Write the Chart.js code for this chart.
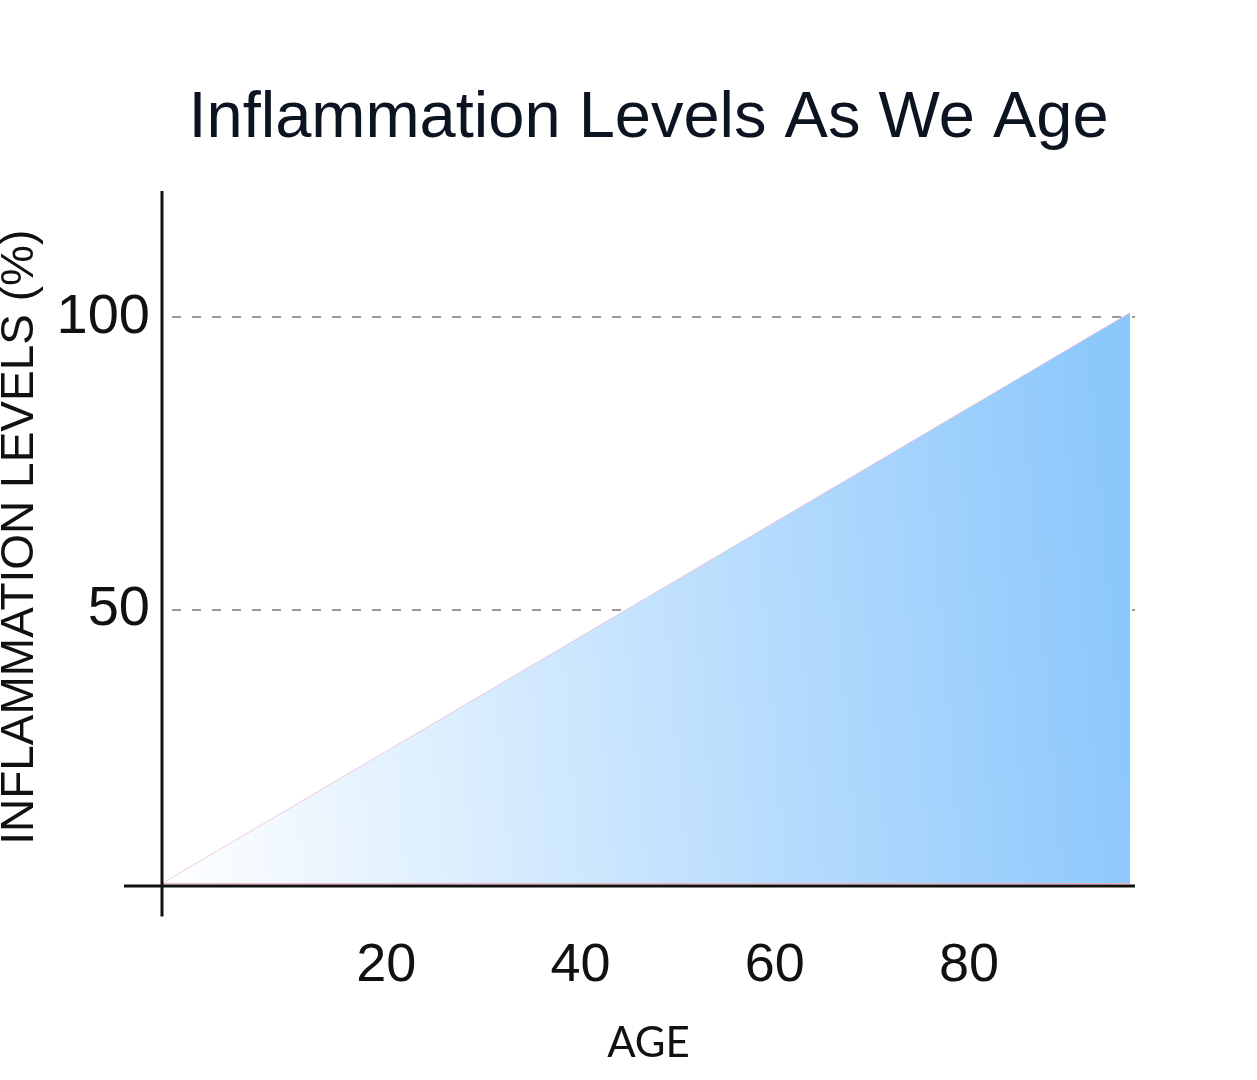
<!DOCTYPE html>
<html>
<head>
<meta charset="utf-8">
<script src="https://cdn.jsdelivr.net/npm/chart.js@4.4.1/dist/chart.umd.min.js"></script>
<style>
    html, body { margin: 0; padding: 0; background: #fff; overflow: hidden; }
    #wrap { width: 1257px; height: 1080px; }
</style>
</head>
<body>
<div id="wrap"><canvas id="ageChart"></canvas></div>
<script>
// data
const ageRange = [-3.1, 97.1];      // x scale limits
const levelRange = [3.25, 121.6];   // y scale limits
const ages = [-3.1, 96.6];
const levels = [3.25, 100.8];
const xTicks = [20, 40, 60, 80];
const yTicks = [50, 100];

const chartTitle = 'Inflammation Levels As We Age';
const xTitle = 'AGE';
const yTitle = 'INFLAMMATION LEVELS (%)';

// cross shaped axis lines, drawn from the scale positions
const axisCross = {
    id: 'axisCross',
    afterDatasetsDraw(chart) {
        const { ctx, chartArea } = chart;
        const x0 = chart.scales.x.getPixelForValue(ageRange[0]);
        const y0 = chart.scales.y.getPixelForValue(levelRange[0]);
        ctx.save();
        ctx.strokeStyle = '#111';
        ctx.lineWidth = 3;
        ctx.beginPath();
        ctx.moveTo(x0, chartArea.top);
        ctx.lineTo(x0, y0 + 33);
        ctx.moveTo(x0 - 38, y0 + 2.5);
        ctx.lineTo(chartArea.right, y0 + 2.5);
        ctx.stroke();
        ctx.restore();
    }
};

function fillGradient(context) {
    const chart = context.chart;
    const area = chart.chartArea;
    if (!area) return '#8ec8fb';
    const xs = chart.scales.x;
    const g = chart.ctx.createLinearGradient(xs.getPixelForValue(ages[0]), area.bottom, xs.getPixelForValue(ages[1]), area.bottom - 80);
    g.addColorStop(0, '#ffffff');
    g.addColorStop(1, '#8dc8fc');
    return g;
}

new Chart(document.getElementById('ageChart'), {
    type: 'line',
    data: {
        datasets: [
            {
                data: ages.map((a, i) => ({ x: a, y: levels[i] })),
                borderColor: 'rgba(236, 170, 200, 0.6)',
                borderWidth: 1,
                backgroundColor: fillGradient,
                fill: 'start',
                pointRadius: 0,
                tension: 0
            },
            {
                data: ages.map(a => ({ x: a, y: levelRange[0] })),
                borderColor: '#ef5b8a',
                borderWidth: 2,
                pointRadius: 0,
                fill: false
            }
        ]
    },
    options: {
        responsive: true,
        maintainAspectRatio: false,
        animation: false,
        layout: { padding: { left: 0, right: 122, top: 0, bottom: 0 } },
        plugins: {
            legend: { display: false },
            tooltip: { enabled: false },
            title: {
                display: true,
                text: chartTitle,
                fullSize: false,
                color: '#0c1422',
                font: { family: 'Liberation Sans, Arial, sans-serif', size: 65, weight: 'normal', lineHeight: 1.2 },
                padding: { top: 80, bottom: 33 }
            }
        },
        scales: {
            x: {
                type: 'linear',
                min: ageRange[0],
                max: ageRange[1],
                afterBuildTicks: s => { s.ticks = xTicks.map(v => ({ value: v })); },
                afterFit: s => { s.height = 196.5; },
                grid: { display: false },
                border: { display: false },
                ticks: {
                    color: '#111',
                    padding: 42,
                    font: { family: 'Liberation Sans, Arial, sans-serif', size: 54, lineHeight: 1.2 }
                },
                title: {
                    display: true,
                    text: xTitle,
                    color: '#111',
                    font: { family: 'Lato, sans-serif', size: 42, lineHeight: 1.2 },
                    padding: { top: 0, bottom: 11 }
                }
            },
            y: {
                type: 'linear',
                min: levelRange[0],
                max: levelRange[1],
                afterBuildTicks: s => { s.ticks = yTicks.map(v => ({ value: v })); },
                afterFit: s => { s.width = 162; },
                grid: { color: '#9a9a9a', lineWidth: 2, drawTicks: false },
                border: { display: false, dash: [9, 11], dashOffset: 10 },
                ticks: {
                    color: '#111',
                    padding: 12,
                    font: { family: 'Liberation Sans, Arial, sans-serif', size: 56, lineHeight: 1.2 }
                },
                title: {
                    display: true,
                    text: yTitle,
                    color: '#111',
                    font: { family: 'Liberation Sans, Arial, sans-serif', size: 46, lineHeight: 1 },
                    padding: { top: -3, bottom: 0 }
                }
            }
        }
    },
    plugins: [axisCross]
});
</script>
</body>
</html>
